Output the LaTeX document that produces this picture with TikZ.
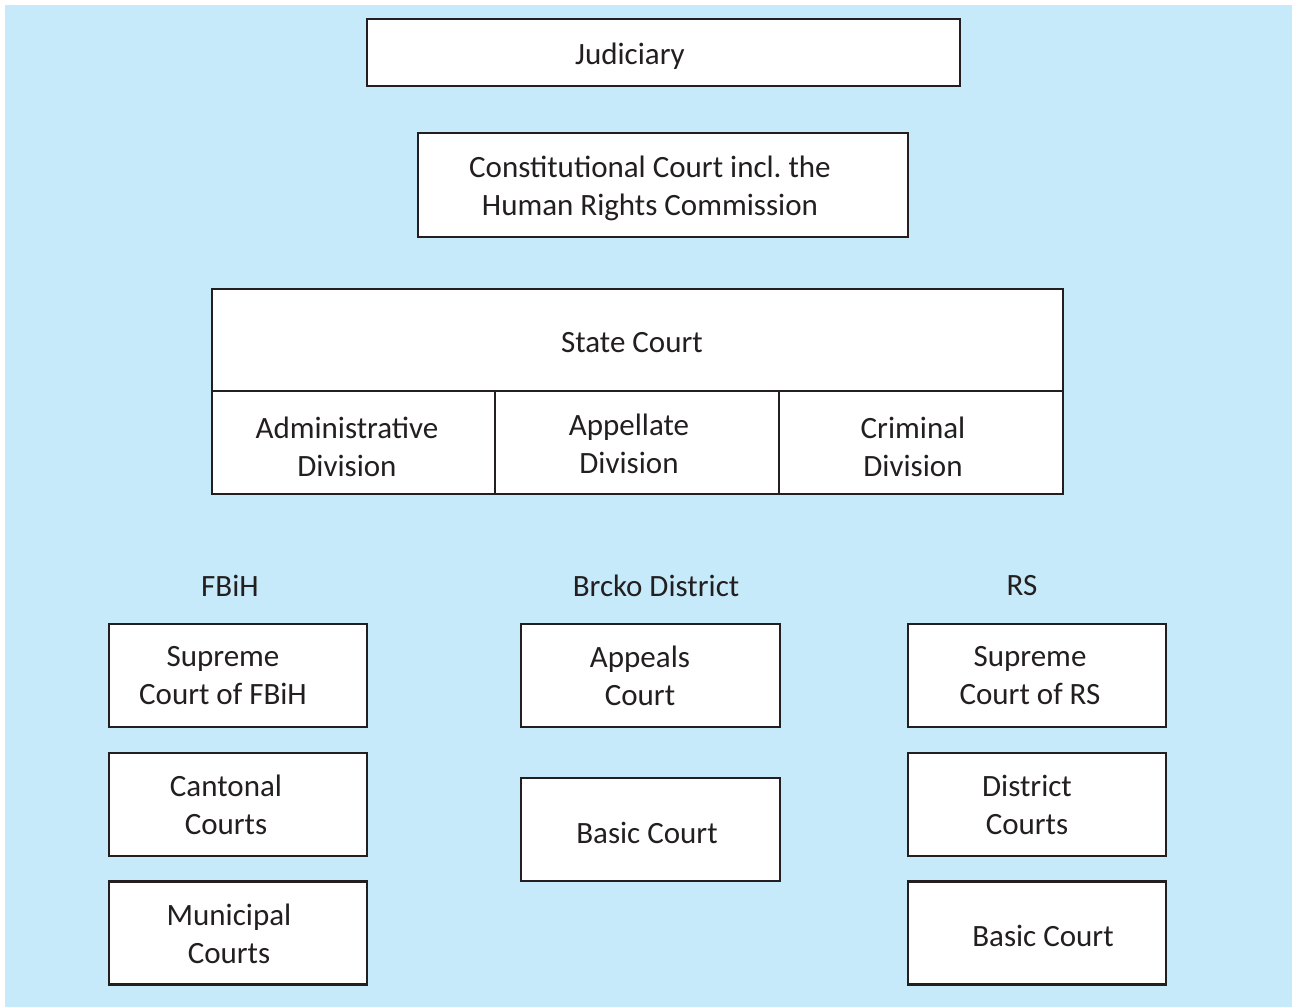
\documentclass[tikz,border=0pt]{standalone}
\usepackage{fontspec}
\setmainfont{Carlito}
\frenchspacing
\definecolor{bg}{RGB}{198,234,249}
\definecolor{ln}{RGB}{35,31,32}
\begin{document}
\begin{tikzpicture}[x=1pt,y=-1pt,
  box/.style={draw=ln, line width=2.2pt, fill=white, inner sep=0pt},
  txt/.style={inner sep=0pt, align=center, font=\fontsize{31}{38}\selectfont, text=ln},
  col/.style={box, minimum width=258pt, minimum height=103pt}]
\useasboundingbox (0,0) rectangle (1292,1007);
\fill[bg] (5,5) rectangle (1292,1007);
% boxes
\node[box, minimum width=593pt, minimum height=67pt] (jud) at (663.5,52.5) {};
\node[box, minimum width=490pt, minimum height=104pt] (con) at (663,185) {};
\node[box, minimum width=851pt, minimum height=102pt] (state) at (637.5,340) {};
\node[box, minimum width=283pt, minimum height=103pt] (adm) at (353.5,442.5) {};
\node[box, minimum width=284pt, minimum height=103pt] (app) at (637,442.5) {};
\node[box, minimum width=284pt, minimum height=103pt] (cri) at (921,442.5) {};
\node[col] (supf) at (238,675.5) {};
\node[col] (cant) at (238,804.5) {};
\node[col] (muni) at (238,933) {};
\node[col, minimum width=259pt] (appeal) at (650.5,675.5) {};
\node[col, minimum width=259pt] (basicb) at (650.5,829.5) {};
\node[col] (suprs) at (1037,675.5) {};
\node[col] (dist) at (1037,804.5) {};
\node[col] (basicr) at (1037,933) {};
% texts
\node[txt] (tjud) at (630,56) {Judiciary};
\node[txt] (tcon) at (650,188) {Constitutional Court incl. the\\Human Rights Commission};
\node[txt] (tstate) at (632,343) {State Court};
\node[txt] (tadm) at (347,447) {Administrative\\Division};
\node[txt] (tapp) at (629,444) {Appellate\\Division};
\node[txt] (tcri) at (913,447) {Criminal\\Division};
\node[txt] (fbih) at (230,586) {FBiH};
\node[txt] (brcko) at (656,586) {Brcko District};
\node[txt] (rs) at (1022,586) {RS};
\node[txt] (tsupf) at (223,676) {Supreme\\Court of FBiH};
\node[txt] (tcant) at (226,805) {Cantonal\\Courts};
\node[txt] (tmuni) at (229,934) {Municipal\\Courts};
\node[txt] (tappeal) at (640,676) {Appeals\\Court};
\node[txt] (tbasicb) at (647,833) {Basic Court};
\node[txt] (tsuprs) at (1030,676) {Supreme\\Court of RS};
\node[txt] (tdist) at (1027,805) {District\\Courts};
\node[txt] (tbasicr) at (1043,936) {Basic Court};
\end{tikzpicture}
\end{document}
